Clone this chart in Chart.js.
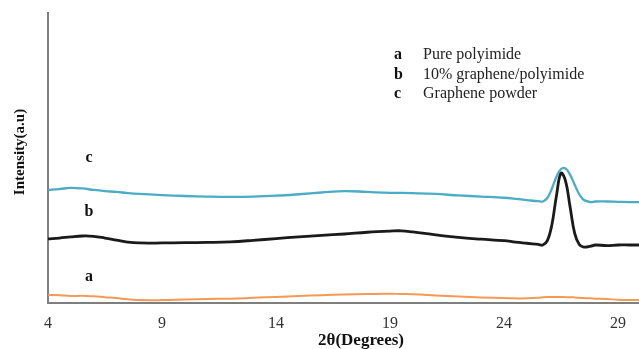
<!DOCTYPE html>
<html>
<head>
<meta charset="utf-8">
<script src="https://cdn.jsdelivr.net/npm/chart.js@4/dist/chart.umd.min.js"></script>
<style>
html,body{margin:0;padding:0;background:#fff;}
#wrap{width:639px;height:349px;position:relative;}
</style>
</head>
<body>
<div id="wrap"><canvas id="c"></canvas></div>
<script>
// 2θ angles (degrees)
const angles = [4,4.5,5,5.5,6,6.5,7,7.5,8,9,10,11,12,13,14,15,16,17,18,19,19.5,20,21,22,23,24,24.5,25,25.5,25.7,25.9,26.1,26.3,26.5,26.7,26.9,27.1,27.3,27.5,27.8,28,28.5,29,29.5,30];
// a: Pure polyimide
const pureValues = [2.8,2.7,2.4,2.5,2.3,2.0,1.7,1.3,1.0,1.0,1.2,1.4,1.5,1.8,2.1,2.4,2.7,2.9,3.1,3.2,3.1,3.0,2.6,2.2,1.9,1.7,1.6,1.6,1.8,2.0,2.1,2.1,2.1,2.1,2.0,2.0,1.9,1.8,1.7,1.6,1.5,1.4,1.1,1.0,1.0];
// b: 10% graphene/polyimide
const compositeValues = [22.1,22.4,22.8,23.1,23.0,22.4,21.7,21.0,20.7,20.7,20.8,20.9,21.1,21.6,22.2,22.8,23.3,23.8,24.4,24.8,24.9,24.5,23.5,22.6,22.0,21.5,21.0,20.6,20.2,20.0,21.5,27.0,37.0,44.8,42.0,33.0,24.0,20.2,19.3,19.6,20.0,19.8,20.0,20.0,20.0];
// c: Graphene powder
const grapheneValues = [39.0,39.3,39.7,39.5,39.0,38.6,38.3,37.9,37.6,37.2,36.9,36.7,36.6,36.7,37.0,37.5,38.1,38.6,38.3,38.0,38.0,37.9,37.6,37.1,36.7,36.3,35.9,35.5,35.1,35.0,36.2,39.5,43.5,46.2,46.4,44.2,40.8,37.5,35.5,34.8,35.0,35.0,34.9,34.8,34.8];
const tickValues = [4,9,14,19,24,29];
const legendKeys = ['a','b','c'];
const legendNames = ['Pure polyimide','10% graphene/polyimide','Graphene powder'];
const curveLetters = ['a','b','c'];
const letterAnchors = [[5.8,9.0],[5.8,31.4],[5.8,50.0]];

function pts(vals){ return angles.map((a,i)=>({x:a,y:vals[i]})); }

const serif = '"Liberation Serif","Times New Roman",serif';

const textPlugin = {
  id:'texts',
  afterDraw(chart){
    const ctx = chart.ctx, xs = chart.scales.x, ys = chart.scales.y;
    ctx.save();
    ctx.fillStyle = '#111';
    ctx.textBaseline = 'middle';
    // curve letters
    ctx.font = 'bold 16px ' + serif;
    ctx.textAlign = 'center';
    curveLetters.forEach((l,i)=>{
      ctx.fillText(l, xs.getPixelForValue(letterAnchors[i][0]), ys.getPixelForValue(letterAnchors[i][1]));
    });
    // legend block
    legendKeys.forEach((k,i)=>{
      const y = 55 + i*19.5;
      ctx.textAlign = 'left';
      ctx.font = 'bold 16px ' + serif;
      ctx.fillText(k, 394, y);
      ctx.font = '16px ' + serif;
      ctx.fillStyle = '#222';
      ctx.fillText(legendNames[i], 423, y);
      ctx.fillStyle = '#111';
    });
    // axis titles
    ctx.textAlign = 'center';
    ctx.font = 'bold 17px ' + serif;
    ctx.fillText('2θ(Degrees)', 361, 341);
    ctx.translate(20, 152);
    ctx.rotate(-Math.PI/2);
    ctx.font = 'bold 15px ' + serif;
    ctx.fillText('Intensity(a.u)', 0, 0);
    ctx.restore();
  }
};

new Chart(document.getElementById('c'), {
  type:'line',
  data:{
    datasets:[
      {label:'a', data:pts(pureValues), borderColor:'#f59a56', borderWidth:2, pointRadius:0, tension:0.4, fill:false},
      {label:'b', data:pts(compositeValues), borderColor:'#1a1a1a', borderWidth:2.8, pointRadius:0, tension:0.4, fill:false},
      {label:'c', data:pts(grapheneValues), borderColor:'#4bacc6', borderWidth:2.3, pointRadius:0, tension:0.4, fill:false}
    ]
  },
  options:{
    responsive:true, maintainAspectRatio:false, animation:false,
    layout:{padding:{left:48,top:13,right:0,bottom:0}},
    plugins:{legend:{display:false}, tooltip:{enabled:false}},
    scales:{
      x:{
        type:'linear', min:4, max:29.92,
        grid:{display:false, drawTicks:false},
        border:{display:true, color:'#7f7f7f', width:2},
        afterBuildTicks(s){ s.ticks = tickValues.map(v=>({value:v})); },
        afterFit(s){ s.height = 46; },
        ticks:{autoSkip:false, maxRotation:0, padding:11, color:'#333', font:{family:serif, size:16}}
      },
      y:{
        min:0, max:100,
        grid:{display:false, drawTicks:false},
        border:{display:true, color:'#7f7f7f', width:2},
        ticks:{display:false},
        afterFit(s){ s.width = 0; }
      }
    }
  },
  plugins:[textPlugin]
});
</script>
</body>
</html>
